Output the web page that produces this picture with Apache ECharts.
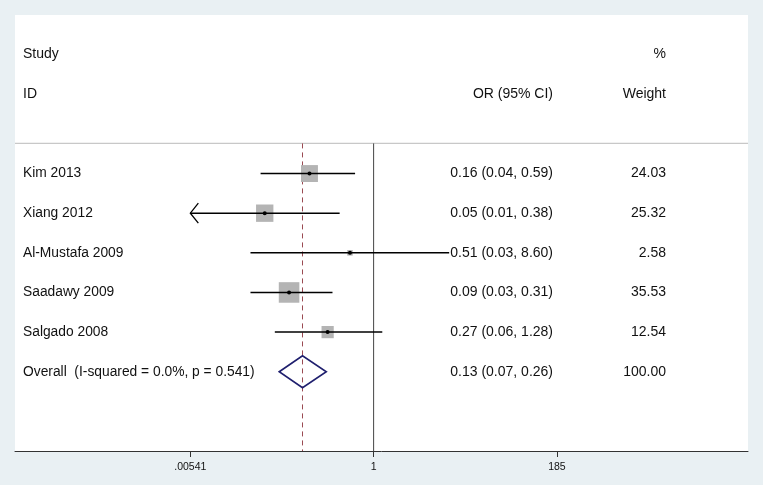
<!DOCTYPE html>
<html><head><meta charset="utf-8">
<script src="https://cdn.jsdelivr.net/npm/echarts@6/dist/echarts.min.js"></script>
<style>html,body{margin:0;padding:0;background:#e9f0f3}#c{width:763px;height:485px}</style>
</head><body><div id="c"></div>
<script>
// ---- data ----
const studies = ['Kim 2013', 'Xiang 2012', 'Al-Mustafa 2009', 'Saadawy 2009', 'Salgado 2008'];
const oddsRatio = [0.161, 0.045, 0.51, 0.09, 0.27];
const ciLower = [0.04, 0.005, 0.03, 0.03, 0.06];
const ciUpper = [0.59, 0.38, 8.60, 0.31, 1.28];
const weights = [24.03, 25.32, 2.58, 35.53, 12.54];
const ciLabels = ['0.16 (0.04, 0.59)', '0.05 (0.01, 0.38)', '0.51 (0.03, 8.60)', '0.09 (0.03, 0.31)', '0.27 (0.06, 1.28)'];
const weightLabels = ['24.03', '25.32', '2.58', '35.53', '12.54'];
const overallLabel = 'Overall  (I-squared = 0.0%, p = 0.541)';
const overallOR = 0.132;
const overallLower = 0.068;
const overallUpper = 0.26;
const overallCiLabel = '0.13 (0.07, 0.26)';
const overallWeightLabel = '100.00';
const tickValues = [0.00541, 1, 185];
const tickLabels = ['.00541', '1', '185'];
const headerTop = ['Study', '%'];
const headerBottom = ['ID', 'OR (95% CI)', 'Weight'];

// ---- layout ----
const ROW_HEAD1 = -3, ROW_HEAD2 = -2, ROW_SEP = -0.76, ROW_OVERALL = studies.length;
const COL = [{off: 8, align: 'left'}, {off: 538, align: 'right'}, {off: 651, align: 'right'}];
const FONT_ROW = '13.8px "Liberation Sans", Arial, sans-serif';
const FONT_NUM = '14px "Liberation Sans", Arial, sans-serif';
const FONT_HEAD = '14px "Liberation Sans", Arial, sans-serif';

const textRows = [];
textRows.push({row: ROW_HEAD1, col: 0, text: headerTop[0], font: FONT_HEAD});
textRows.push({row: ROW_HEAD1, col: 2, text: headerTop[1], font: FONT_HEAD});
textRows.push({row: ROW_HEAD2, col: 0, text: headerBottom[0], font: FONT_HEAD});
textRows.push({row: ROW_HEAD2, col: 1, text: headerBottom[1], font: FONT_HEAD});
textRows.push({row: ROW_HEAD2, col: 2, text: headerBottom[2], font: FONT_HEAD});
studies.forEach((s, i) => {
  textRows.push({row: i, col: 0, text: s, font: FONT_ROW});
  textRows.push({row: i, col: 1, text: ciLabels[i], font: FONT_NUM});
  textRows.push({row: i, col: 2, text: weightLabels[i], font: FONT_NUM});
});
textRows.push({row: ROW_OVERALL, col: 0, text: overallLabel, font: FONT_ROW});
textRows.push({row: ROW_OVERALL, col: 1, text: overallCiLabel, font: FONT_NUM});
textRows.push({row: ROW_OVERALL, col: 2, text: overallWeightLabel, font: FONT_NUM});

const chart = echarts.init(document.getElementById('c'), null, {renderer: 'canvas'});

const studyData = studies.map((s, i) => [oddsRatio[i], i, ciLower[i], ciUpper[i], weights[i]]);

function fmtTick(v) {
  for (let i = 0; i < tickValues.length; i++) {
    if (Math.abs(v - tickValues[i]) / tickValues[i] < 1e-4) return tickLabels[i];
  }
  return '';
}

chart.setOption({
  backgroundColor: '#e9f0f3',
  animation: false,
  grid: {left: 15, right: 15, top: 15, bottom: 34, show: true, backgroundColor: '#ffffff', borderWidth: 0},
  xAxis: {
    type: 'log', logBase: 10, min: 3.67e-5, max: 4.27e4, position: 'bottom',
    axisLine: {show: true, onZero: false, lineStyle: {color: '#333', width: 1}},
    axisTick: {show: true, length: 6, inside: false, customValues: tickValues, lineStyle: {color: '#333'}},
    axisLabel: {show: true, customValues: tickValues, formatter: fmtTick, margin: 11,
      fontFamily: '"Liberation Sans", Arial, sans-serif', fontSize: 10.5, color: '#111'},
    splitLine: {show: false},
    minorTick: {show: false}
  },
  yAxis: {type: 'value', min: -4, max: 7, inverse: true, show: false},
  series: [
    { // separator + reference lines
      type: 'custom', clip: false, z: 1,
      data: [[1, ROW_SEP]],
      renderItem(params, api) {
        const cs = params.coordSys;
        const ySep = api.coord([1, ROW_SEP])[1];
        const bottom = cs.y + cs.height;
        const x1 = api.coord([1, 0])[0];
        const xo = api.coord([overallOR, 0])[0];
        return {type: 'group', children: [
          {type: 'line', shape: {x1: cs.x, y1: ySep, x2: cs.x + cs.width, y2: ySep}, style: {stroke: '#c8c8c8', lineWidth: 1.2}},
          {type: 'line', shape: {x1: x1, y1: ySep, x2: x1, y2: bottom}, style: {stroke: '#444', lineWidth: 1}},
          {type: 'line', shape: {x1: xo, y1: ySep, x2: xo, y2: bottom}, style: {stroke: '#9a4a52', lineWidth: 1, lineDash: [5, 4]}}
        ]};
      }
    },
    { // weight squares
      type: 'custom', clip: false, z: 2,
      data: studyData,
      renderItem(params, api) {
        const p = api.coord([api.value(0), api.value(1)]);
        const s = 3.45 * Math.sqrt(api.value(4));
        return {type: 'rect', shape: {x: p[0] - s / 2, y: p[1] - s / 2, width: s, height: s}, style: {fill: '#b4b4b4'}};
      }
    },
    { // CI lines, arrows, point dots
      type: 'custom', clip: false, z: 3,
      data: studyData,
      renderItem(params, api) {
        const row = api.value(1), lo = api.value(2), hi = api.value(3);
        const clipLo = Math.max(lo, tickValues[0]);
        const p1 = api.coord([clipLo, row]);
        const p2 = api.coord([hi, row]);
        const pc = api.coord([api.value(0), row]);
        const ch = [{type: 'line', shape: {x1: p1[0], y1: p1[1], x2: p2[0], y2: p2[1]}, style: {stroke: '#000', lineWidth: 1.5}}];
        if (lo < tickValues[0]) {
          ch.push({type: 'polyline', shape: {points: [[p1[0] + 8, p1[1] - 10], [p1[0], p1[1]], [p1[0] + 8, p1[1] + 10]]}, style: {stroke: '#000', fill: null, lineWidth: 1.3}});
        }
        ch.push({type: 'circle', shape: {cx: pc[0], cy: pc[1], r: 2}, style: {fill: '#000'}});
        return {type: 'group', children: ch};
      }
    },
    { // overall diamond
      type: 'custom', clip: false, z: 3,
      data: [[overallOR, ROW_OVERALL, overallLower, overallUpper]],
      renderItem(params, api) {
        const row = api.value(1);
        const pl = api.coord([api.value(2), row]);
        const pr = api.coord([api.value(3), row]);
        const pc = api.coord([api.value(0), row]);
        const h = 16;
        return {type: 'polygon', shape: {points: [[pl[0], pl[1]], [pc[0], pc[1] - h], [pr[0], pr[1]], [pc[0], pc[1] + h]]},
          style: {stroke: '#1f1f6e', fill: null, lineWidth: 1.6}};
      }
    },
    { // table text
      type: 'custom', clip: false, z: 4,
      data: textRows.map(t => [1, t.row]),
      renderItem(params, api) {
        const t = textRows[params.dataIndex];
        const cs = params.coordSys;
        const y = api.coord([1, t.row])[1];
        return {type: 'text', x: cs.x + COL[t.col].off, y: y,
          style: {text: t.text, font: t.font, fill: '#111', textAlign: COL[t.col].align, textVerticalAlign: 'middle', align: COL[t.col].align, verticalAlign: 'middle'}};
      }
    }
  ]
});
</script>
</body></html>
